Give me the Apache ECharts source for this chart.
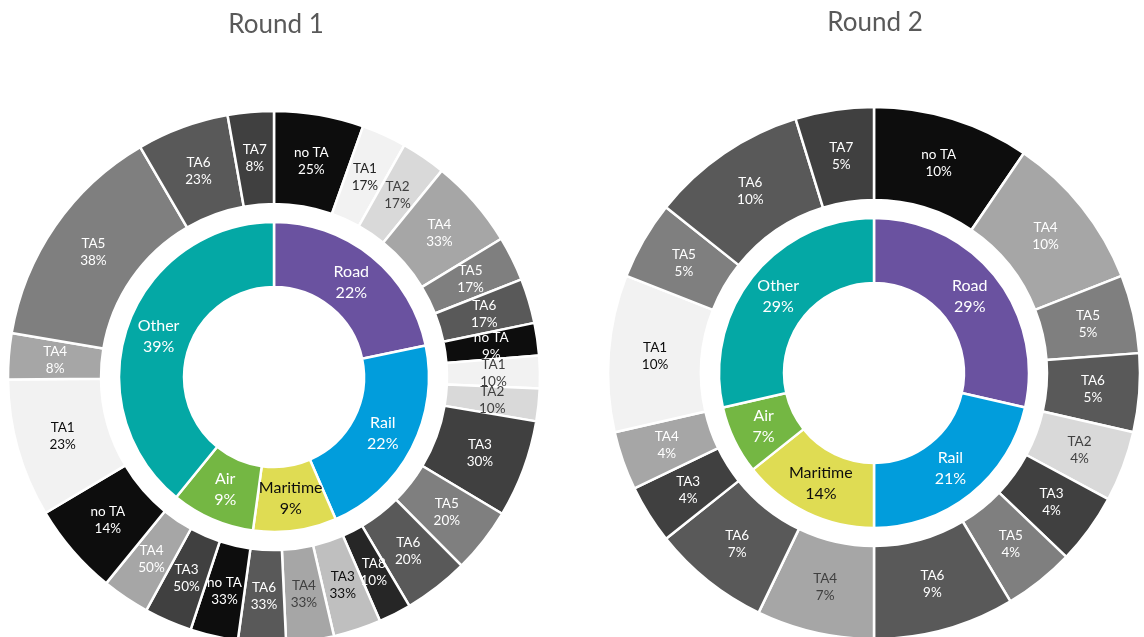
<!DOCTYPE html>
<html>
<head>
<meta charset="utf-8">
<script src="https://cdn.jsdelivr.net/npm/echarts@6/dist/echarts.min.js"></script>
<style>
html,body{margin:0;padding:0;background:#fff;}
#main{width:1144px;height:637px;}
</style>
</head>
<body>
<div id="main"></div>
<script>
// ---------- DATA ----------
const categories = ['Road', 'Rail', 'Maritime', 'Air', 'Other'];
const titles = ['Round 1', 'Round 2'];

// Round 1 inner ring
const r1Counts = [5, 5, 2, 2, 9];
const r1Pct = [22, 22, 9, 9, 39];
// Round 1 outer ring (flat, clockwise from top)
const r1OuterParent = [0,0,0,0,0,0, 1,1,1,1,1,1,1, 2,2,2, 3,3,3, 4,4,4,4,4,4];
const r1OuterNames = ['no TA','TA1','TA2','TA4','TA5','TA6',
  'no TA','TA1','TA2','TA3','TA5','TA6','TA8',
  'TA3','TA4','TA6',
  'no TA','TA3','TA4',
  'no TA','TA1','TA4','TA5','TA6','TA7'];
const r1OuterCounts = [2,1,1,2,1,1, 1,1,1,3,2,2,1, 1,1,1, 1,1,1, 2,3,1,5,2,1];
const r1OuterPct = [25,17,17,33,17,17, 9,10,10,30,20,20,10, 33,33,33, 33,50,50, 14,23,8,38,23,8];

// Round 2 inner ring
const r2Counts = [4, 3, 2, 1, 4];
const r2Pct = [29, 21, 14, 7, 29];
// Round 2 outer ring
const r2OuterParent = [0,0,0,0, 1,1,1,1, 2,2, 3,3, 4,4,4,4];
const r2OuterNames = ['no TA','TA4','TA5','TA6',
  'TA2','TA3','TA5','TA6',
  'TA4','TA6',
  'TA3','TA4',
  'TA1','TA5','TA6','TA7'];
const r2OuterCounts = [2,2,1,1, 1,1,1,2, 1,1, 1,1, 2,1,2,1];
const r2OuterPct = [10,10,5,5, 4,4,4,9, 7,7, 4,4, 10,5,10,5];

// ---------- STYLES ----------
const catColors = ['#6a52a0', '#019ddc', '#dfdc53', '#74b743', '#04a8a5'];
const catLabelColors = ['#ffffff', '#ffffff', '#0d0d0d', '#ffffff', '#ffffff'];
const taColors = {'no TA':'#0d0d0d','TA1':'#f2f2f2','TA2':'#d9d9d9','TA3':'#404040','TA4':'#a6a6a6',
  'TA5':'#7f7f7f','TA6':'#595959','TA7':'#404040','TA8':'#262626'};
const r1SegColorOverride = {13: '#bfbfbf'};
const r1LabelColors = ['#fff','#262626','#404040','#fff','#fff','#fff',
  '#fff','#404040','#404040','#fff','#fff','#fff','#fff',
  '#0d0d0d','#404040','#fff',
  '#fff','#fff','#fff',
  '#fff','#0d0d0d','#fff','#fff','#fff','#fff'];
const r2LabelColors = ['#fff','#fff','#fff','#fff',
  '#404040','#fff','#fff','#fff',
  '#404040','#fff',
  '#fff','#fff',
  '#0d0d0d','#fff','#fff','#fff'];

const FONT = 'Lato, "Open Sans", sans-serif';

function buildTree(counts, pct, parent, names, subCounts, subPct, labelColors, overrides) {
  const groupSum = counts.map(() => 0);
  parent.forEach((p, i) => { groupSum[p] += subCounts[i]; });
  return categories.map((c, ci) => {
    const children = [];
    names.forEach((n, i) => {
      if (parent[i] !== ci) return;
      children.push({
        name: n,
        value: counts[ci] * subCounts[i] / groupSum[ci],
        pct: subPct[i],
        itemStyle: {color: (overrides && overrides[i]) || taColors[n]},
        label: {color: labelColors[i]}
      });
    });
    return {
      name: c, value: counts[ci], pct: pct[ci],
      itemStyle: {color: catColors[ci]},
      label: {color: catLabelColors[ci]},
      children: children
    };
  });
}

function sunSeries(center, data) {
  return {
    type: 'sunburst',
    center: center,
    radius: [0, 266],
    startAngle: 90,
    clockwise: true,
    sort: null,
    nodeClick: false,
    animation: false,
    emphasis: {focus: 'none', disabled: true},
    itemStyle: {borderColor: '#ffffff', borderWidth: 2.5},
    label: {
      show: true,
      rotate: 0,
      position: 'inside',
      align: 'center',
      fontFamily: FONT,
      formatter: p => p.name + '\n' + p.data.pct + '%'
    },
    levels: [
      {},
      {r0: 90, r: 155, label: {fontSize: 16, lineHeight: 21}},
      {r0: 173, r: 266, label: {fontSize: 13.5, lineHeight: 17}}
    ],
    data: data
  };
}

const c1 = [274, 377], c2 = [874, 373];

const chart = echarts.init(document.getElementById('main'), null, {renderer: 'canvas'});
chart.setOption({
  backgroundColor: '#ffffff',
  animation: false,
  title: [
    {text: titles[0], left: 271, top: 7, textAlign: 'center',
     textStyle: {fontFamily: FONT, fontSize: 26, fontWeight: 'normal', color: '#595959'}},
    {text: titles[1], left: 870, top: 5, textAlign: 'center',
     textStyle: {fontFamily: FONT, fontSize: 26, fontWeight: 'normal', color: '#595959'}}
  ],
  series: [
    sunSeries(c1, buildTree(r1Counts, r1Pct, r1OuterParent, r1OuterNames, r1OuterCounts, r1OuterPct, r1LabelColors, r1SegColorOverride)),
    sunSeries(c2, buildTree(r2Counts, r2Pct, r2OuterParent, r2OuterNames, r2OuterCounts, r2OuterPct, r2LabelColors, null))
  ]
});
</script>
</body>
</html>
